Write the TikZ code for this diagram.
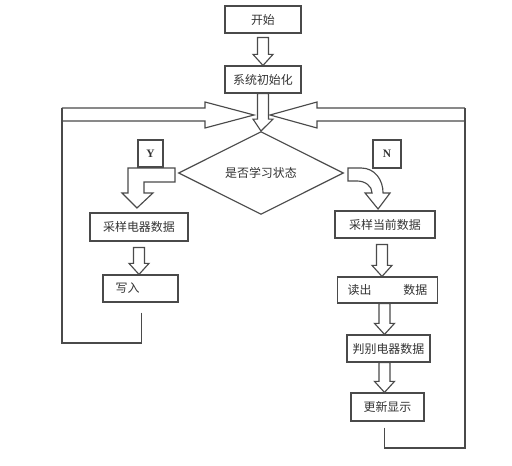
\documentclass[tikz,border=0pt]{standalone}
\usepackage{fontspec}
\usepackage{tikz}
\usetikzlibrary{shapes.geometric,calc}
\newfontfamily\cjk{Noto Sans CJK SC}
\newfontfamily\ynfont{Liberation Serif}
\definecolor{linegray}{HTML}{4a4a4a}
\definecolor{textgray}{HTML}{333333}

\newcommand\hollowdown[4]{%
  \draw[blk] let \p1=($(#1.south)+(#3,#4)$), \p2=(#2.north) in
    (\x1-3.1pt,\y1) -- (\x1-3.1pt,\y2+6.3pt) -- (\x1-5.7pt,\y2+6.3pt) -- (\x1,\y2)
    -- (\x1+5.7pt,\y2+6.3pt) -- (\x1+3.1pt,\y2+6.3pt) -- (\x1+3.1pt,\y1) -- cycle;}

\begin{document}
\begin{tikzpicture}[x=0.02cm,y=-0.02cm]
        \tikzset{box/.style={draw=linegray, line width=0.65pt, inner sep=0pt,
                 text=textgray, font=\cjk\fontsize{6.8}{8}\selectfont},
                 ynbox/.style={box, font=\ynfont\bfseries\fontsize{6.5}{7}\selectfont},
                 blk/.style={draw=linegray, line width=0.65pt, line join=miter},
                 loop/.style={draw=linegray, line width=0.65pt}}
        \useasboundingbox (0,0) rectangle (512,466);
        \node[box, minimum width=1.52cm, minimum height=0.54cm] (start) at (263,19.5) {开始};
        \node[box, minimum width=1.52cm, minimum height=0.54cm] (init) at (263,79.5) {系统初始化};
        \node[box, shape=diamond, minimum width=3.3cm, minimum height=1.32cm] (dia) at (261,173) {是否学习状态};
        \node[ynbox, minimum width=0.5cm, minimum height=0.54cm] (yes) at (150.5,153.5) {Y};
        \node[ynbox, minimum width=0.56cm, minimum height=0.56cm] (no) at (387,154) {N};
        \node[box, minimum width=1.96cm, minimum height=0.56cm] (sampL) at (139,227) {采样电器数据};
        \node[box, minimum width=1.5cm, minimum height=0.54cm] (write) at (140.5,288.5) {写入\rule{0.52cm}{0pt}};
        \node[box, minimum width=2cm, minimum height=0.54cm] (sampR) at (385,224.5) {采样当前数据};
        \node[box, minimum width=2cm, minimum height=0.52cm] (read) at (387.5,290) {读出\rule{0.64cm}{0pt}数据};
        \node[box, minimum width=1.66cm, minimum height=0.54cm] (judge) at (388.5,348.5) {判别电器数据};
        \node[box, minimum width=1.46cm, minimum height=0.56cm] (update) at (387.5,407) {更新显示};
        \coordinate (jn) at (263,115);
        \coordinate (lcorner) at (62,343);
        \coordinate (rcorner) at (465,448);
        \hollowdown{start}{init}{0}{4}
        \draw[blk] let \p1=(init.south), \p2=(dia.north) in
          (\x1-3.1pt,\y1) -- (\x1-3.1pt,\y2+6.8pt) -- (\x1-5.7pt,\y2+6.8pt) -- (\x2,\y2)
          -- (\x1+5.7pt,\y2+6.8pt) -- (\x1+3.1pt,\y2+6.8pt) -- (\x1+3.1pt,\y1) -- cycle;
        \draw[blk, shift={(jn)}] (-201,-7) -- (-58,-7) -- (-58,-13) -- (-9,0) -- (-58,13)
          -- (-58,6) -- (-201,6);
        \draw[blk, shift={(jn)}] (202,-7) -- (54,-7) -- (54,-13) -- (7,0) -- (54,13)
          -- (54,6) -- (202,6);
        \draw[blk, shift={(dia.west)}] (-3,-5) -- (-50,-5) -- (-50,20) -- (-56,20) -- (-41,35)
          -- (-25,20) -- (-34,20) -- (-34,9) -- (-3,9) -- cycle;
        \draw[blk, shift={(dia.east)}] (4,-5) -- (17,-5) .. controls (31,-5) and (39,7) .. (39,20)
          -- (46,20) -- (34,36) -- (21,20) -- (28,20) .. controls (28,13) and (21,8) .. (13,8)
          -- (4,8) -- cycle;
        \hollowdown{sampL}{write}{0}{6}
        \hollowdown{sampR}{read}{-3}{6}
        \hollowdown{read}{judge}{-3}{0}
        \hollowdown{judge}{update}{-4}{0}
        \draw[loop] ($(write.south)+(1,10)$) |- (lcorner) -- ($(jn)+(-201,-7)$);
        \draw[loop] ($(update.south)+(-3,6)$) |- (rcorner) -- ($(jn)+(202,-7)$);
    \end{tikzpicture}
\end{document}
